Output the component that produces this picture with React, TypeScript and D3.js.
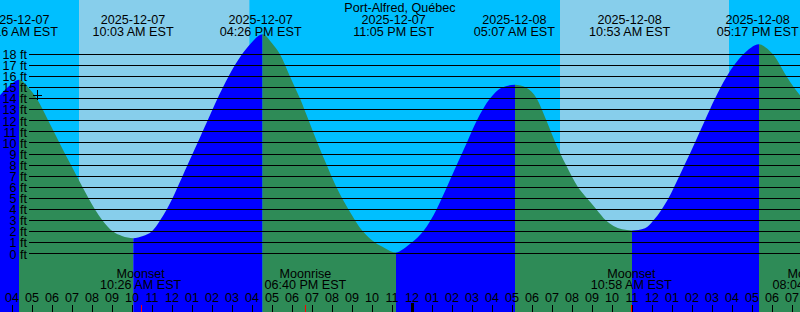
import React, { useEffect } from 'react';
import * as d3 from 'd3';

const W = 800;
const H = 312;

const title = 'Port-Alfred, Québec';

// Tide heights (ft), time in hours since 2025-12-07 00:00 EST
const tideHours = [
  3.400, 3.900, 4.350, 4.815, 5.235, 5.815, 6.375, 6.950, 7.530, 8.150, 8.525, 9.050, 9.500,
  10.065, 10.550, 10.985, 11.400, 11.735, 12.025, 12.275, 12.525, 12.775, 13.275, 13.775, 14.275, 14.825, 15.500, 15.950,
  16.525, 17.000, 17.400, 17.900, 18.400, 18.840, 19.275, 19.735, 20.225, 20.825, 21.550, 22.150, 22.650,
  23.200, 23.550, 23.985, 24.550, 24.925, 25.225, 25.490, 25.740, 26.235, 26.735, 27.235, 27.900, 28.500,
  29.150, 29.700, 30.235, 30.725, 31.175, 31.700, 32.300, 32.750, 33.225, 33.700, 34.075, 34.500,
  35.000, 35.650, 36.065, 36.485, 36.825, 37.100, 37.625, 38.140, 38.640, 39.150, 39.735, 40.565, 40.950,
  41.350, 41.700, 42.050, 42.735, 43.100, 43.400,
];
const tideFeet = [
  14.3, 15.2, 15.7, 15.0, 14.0, 12.0, 10.0, 8.0, 6.0, 4.0, 3.0, 2.0, 1.6,
  1.4, 1.6, 2.0, 3.0, 4.0, 5.0, 6.0, 7.0, 8.0, 10.0, 12.0, 14.0, 16.0, 18.0, 19.0,
  19.8, 19.0, 18.0, 16.0, 14.0, 12.0, 10.0, 8.0, 6.0, 4.0, 2.0, 1.0, 0.5,
  0.1, 0.4, 1.0, 2.0, 3.0, 4.0, 5.0, 6.0, 8.0, 10.0, 12.0, 14.0, 15.0,
  15.25, 15.0, 14.0, 12.0, 10.0, 8.0, 6.0, 5.0, 4.0, 3.0, 2.5, 2.2,
  2.1, 2.3, 3.0, 4.0, 5.0, 6.0, 8.0, 10.0, 12.0, 14.0, 16.0, 18.0, 18.6,
  18.9, 18.6, 18.0, 16.0, 15.0, 14.3,
];

// High / low tide events
const eventHours = [4.267, 10.05, 16.433, 23.083, 29.117, 34.883, 41.283];
const eventDates = ['2025-12-07', '2025-12-07', '2025-12-07', '2025-12-07', '2025-12-08', '2025-12-08', '2025-12-08'];
const eventTimes = ['04:16 AM EST', '10:03 AM EST', '04:26 PM EST', '11:05 PM EST', '05:07 AM EST', '10:53 AM EST', '05:17 PM EST'];

// Moon events
const moonHours = [10.433, 18.667, 34.967, 44.067];
const moonNames = ['Moonset', 'Moonrise', 'Moonset', 'Moonrise'];
const moonTimes = ['10:26 AM EST', '06:40 PM EST', '10:58 AM EST', '08:04 PM EST'];

// Daylight
const sunriseHours = [7.35, 31.4];
const sunsetHours = [15.87, 39.85];

// Y axis ticks (ft)
const footTicks = d3.range(0, 19);

// current-time marker
const nowHour = 5.25;
const nowFeet = 14.35;

const FONT = "'Liberation Sans', Arial, sans-serif";
const FS = 12.6;
const NIGHT = '#00BFFF';
const DAY = '#87CEEB';
const RISE = '#0000FF';
const FALL = '#2E8B57';

export default function App() {
  useEffect(() => {
    document.body.style.margin = '0';
  }, []);

  const x = d3.scaleLinear().domain([3.4, 43.4]).range([0, W]);
  const y = d3.scaleLinear().domain([0, 18]).range([253.7, 54.3]);

  const pts = tideHours.map((t, i) => ({ t, f: tideFeet[i] }));
  const area = d3
    .area<{ t: number; f: number }>()
    .x((d) => x(d.t))
    .y0(H)
    .y1((d) => y(d.f))
    .curve(d3.curveMonotoneX);
  const areaPath = area(pts) || '';

  // turning points from data
  const turns: number[] = [];
  for (let i = 1; i < pts.length - 1; i++) {
    const a = pts[i].f - pts[i - 1].f;
    const b = pts[i + 1].f - pts[i].f;
    if (a * b < 0) turns.push(pts[i].t);
  }
  const bounds = [x.domain()[0], ...turns, x.domain()[1]];
  const segs = bounds.slice(0, -1).map((b0, i) => {
    const b1 = bounds[i + 1];
    const fa = pts.find((p) => p.t >= b0)!.f;
    const later = pts.filter((p) => p.t <= b1);
    const fb = later[later.length - 1].f;
    return { b0, b1, rising: fb > fa };
  });

  const hourTicks = d3.range(Math.ceil(x.domain()[0]), Math.floor(x.domain()[1]) + 1);
  const hourLabel = (t: number) => {
    const h = ((t % 24) + 24) % 24;
    const h12 = h % 12 === 0 ? 12 : h % 12;
    return String(h12).padStart(2, '0');
  };

  const gy = (f: number) => Math.floor(y(f)) + 0.5;
  const nx = Math.round(x(nowHour));
  const ny = Math.round(y(nowFeet));

  return (
    <svg
      width={W}
      height={H}
      style={{ position: 'absolute', left: 0, top: 0, display: 'block' }}
      fontFamily={FONT}
      fontSize={FS}
    >
      <defs>
        {segs.map((s, i) => (
          <clipPath id={`seg${i}`} key={i}>
            <rect x={x(s.b0)} y={0} width={x(s.b1) - x(s.b0)} height={H} />
          </clipPath>
        ))}
      </defs>
      <rect x={0} y={0} width={W} height={H} fill={NIGHT} />
      {sunriseHours.map((sr, i) => (
        <rect key={i} x={x(sr)} y={0} width={x(sunsetHours[i]) - x(sr)} height={H} fill={DAY} />
      ))}
      {segs.map((s, i) => (
        <path key={i} d={areaPath} fill={s.rising ? RISE : FALL} clipPath={`url(#seg${i})`} />
      ))}
      {footTicks.map((f) => (
        <line key={f} x1={29} x2={W} y1={gy(f)} y2={gy(f)} stroke="#000" strokeWidth={1} />
      ))}
      {footTicks.map((f) => (
        <text key={f} x={27} y={y(f) + 4.8} textAnchor="end" fill="#000">
          {`${f} ft`}
        </text>
      ))}
      <text x={W / 2} y={11.7} textAnchor="middle" fill="#000">
        {title}
      </text>
      {eventHours.map((t, i) => (
        <g key={i}>
          <text x={x(t)} y={24} textAnchor="middle" fill="#000">
            {eventDates[i]}
          </text>
          <text x={x(t)} y={36} textAnchor="middle" fill="#000">
            {eventTimes[i]}
          </text>
        </g>
      ))}
      {moonHours.map((t, i) => (
        <g key={i}>
          <text x={x(t)} y={278.3} textAnchor="middle" fill="#000">
            {moonNames[i]}
          </text>
          <text x={x(t)} y={289.3} textAnchor="middle" fill="#000">
            {moonTimes[i]}
          </text>
        </g>
      ))}
      {hourTicks.map((t) => (
        <text key={t} x={x(t)} y={301.6} textAnchor="middle" fill="#000">
          {hourLabel(t)}
        </text>
      ))}
      {hourTicks.map((t) => {
        const px = Math.round(x(t));
        return t % 24 === 0 ? (
          <rect key={t} x={px - 1} y={303} width={3} height={H - 303} fill="#000" />
        ) : (
          <rect key={t} x={px} y={305} width={1} height={H - 305} fill="#000" />
        );
      })}
      {moonHours.map((t, i) => (
        <rect key={i} x={Math.round(x(t))} y={305} width={1} height={H - 305} fill="#FF0000" />
      ))}
      <g stroke="#000" strokeWidth={1}>
        <line x1={nx - 4} x2={nx + 5} y1={ny + 0.5} y2={ny + 0.5} />
        <line x1={nx + 0.5} x2={nx + 0.5} y1={ny - 5} y2={ny + 5} />
      </g>
    </svg>
  );
}
